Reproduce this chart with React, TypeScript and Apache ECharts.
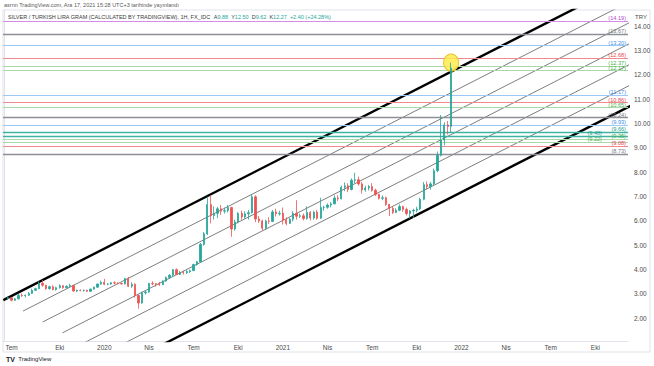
import React, { useEffect, useRef } from "react";
import * as echarts from "echarts";

// ---- categories: weekly bars (Monday dates) ----
const START_DATE = Date.UTC(2019, 5, 17);
const WEEK_COUNT = 182;
const weeks: string[] = Array.from({ length: WEEK_COUNT }, (_, i) =>
  new Date(START_DATE + i * 7 * 864e5).toISOString().slice(0, 10)
);
const FIRST_BAR = 1; // first candle is the week of 2019-06-24

// ---- weekly OHLC (XAG/TRY per gram) ----
const open = [
  2.80, 2.85, 2.74, 2.80, 2.95, 2.93, 2.95, 3.02, 3.15, 3.22, 3.44, 3.36, 3.22, 3.30, 3.18, 3.26, 3.34, 3.26, 3.32, 3.35,
  3.12, 3.15, 3.14, 3.15, 3.11, 3.20, 3.28, 3.41, 3.48, 3.40, 3.41, 3.46, 3.45, 3.43, 3.41, 3.63, 3.32, 3.40, 2.94, 2.63,
  3.05, 3.08, 3.43, 3.42, 3.41, 3.39, 3.53, 3.68, 3.77, 4.00, 3.80, 3.88, 3.87, 3.92, 3.96, 4.21, 4.32, 5.04, 5.47, 6.67,
  6.22, 6.31, 6.50, 6.40, 6.42, 6.55, 5.67, 5.96, 6.31, 6.16, 6.29, 6.34, 6.99, 6.08, 6.00, 5.70, 6.00, 5.98, 6.37, 6.29,
  6.31, 6.04, 5.90, 6.07, 6.31, 6.19, 6.21, 6.10, 6.35, 6.12, 6.36, 6.11, 6.55, 6.56, 6.65, 6.70, 6.94, 6.91, 7.38, 7.44,
  7.29, 7.67, 7.69, 7.52, 7.27, 7.35, 7.41, 7.26, 7.09, 6.93, 6.95, 6.68, 6.51, 6.35, 6.44, 6.59, 6.47, 6.30, 6.41, 6.44,
  6.49, 6.89, 7.49, 7.41, 7.52, 8.06, 8.70, 9.32, 9.94, 9.88,
];
const close = [
  2.85, 2.74, 2.80, 2.95, 2.93, 2.95, 3.02, 3.15, 3.22, 3.44, 3.36, 3.22, 3.30, 3.18, 3.26, 3.34, 3.26, 3.32, 3.35, 3.12,
  3.15, 3.14, 3.15, 3.11, 3.20, 3.28, 3.41, 3.48, 3.40, 3.41, 3.46, 3.45, 3.43, 3.41, 3.63, 3.32, 3.40, 2.94, 2.63, 3.05,
  3.08, 3.43, 3.42, 3.41, 3.39, 3.53, 3.68, 3.77, 4.00, 3.80, 3.88, 3.87, 3.92, 3.96, 4.21, 4.32, 5.04, 5.47, 6.67, 6.22,
  6.31, 6.50, 6.40, 6.42, 6.55, 5.67, 5.96, 6.31, 6.16, 6.29, 6.34, 6.99, 6.08, 6.00, 5.70, 6.00, 5.98, 6.37, 6.29, 6.31,
  6.04, 5.90, 6.07, 6.31, 6.19, 6.21, 6.10, 6.35, 6.12, 6.36, 6.11, 6.55, 6.56, 6.65, 6.70, 6.94, 6.91, 7.38, 7.44, 7.29,
  7.67, 7.69, 7.52, 7.27, 7.35, 7.41, 7.26, 7.09, 6.93, 6.95, 6.68, 6.51, 6.35, 6.44, 6.59, 6.47, 6.30, 6.41, 6.44, 6.49,
  6.89, 7.49, 7.41, 7.52, 8.06, 8.70, 9.32, 9.94, 9.88, 12.27,
];
const low = [
  2.75, 2.70, 2.72, 2.78, 2.88, 2.86, 2.92, 3.00, 3.12, 3.20, 3.30, 3.18, 3.18, 3.15, 3.14, 3.22, 3.22, 3.24, 3.28, 3.10,
  3.08, 3.11, 3.10, 3.08, 3.09, 3.18, 3.26, 3.38, 3.36, 3.36, 3.38, 3.40, 3.40, 3.39, 3.40, 3.28, 3.25, 2.85, 2.40, 2.60,
  2.98, 3.05, 3.36, 3.30, 3.33, 3.36, 3.50, 3.62, 3.72, 3.78, 3.78, 3.80, 3.82, 3.86, 3.94, 4.16, 4.30, 4.98, 5.42, 5.90,
  6.05, 6.12, 6.25, 6.30, 6.35, 5.35, 5.60, 5.90, 6.05, 6.10, 6.05, 6.30, 5.95, 5.92, 5.62, 5.65, 5.88, 5.95, 6.18, 6.22,
  5.85, 5.82, 5.88, 5.98, 6.05, 6.12, 6.02, 6.05, 6.02, 6.05, 6.05, 6.08, 6.42, 6.50, 6.55, 6.68, 6.82, 6.88, 7.22, 7.18,
  7.25, 7.55, 7.45, 7.12, 7.20, 7.25, 7.20, 7.02, 6.88, 6.85, 6.62, 6.20, 6.28, 6.32, 6.40, 6.38, 6.22, 6.10, 6.12, 6.35,
  6.45, 6.85, 7.30, 7.28, 7.48, 8.00, 8.65, 9.10, 9.55, 9.62,
];
const high = [
  2.92, 2.88, 2.83, 3.00, 3.02, 2.98, 3.08, 3.22, 3.26, 3.52, 3.58, 3.38, 3.34, 3.36, 3.30, 3.40, 3.36, 3.35, 3.42, 3.38,
  3.18, 3.19, 3.18, 3.18, 3.22, 3.30, 3.43, 3.55, 3.62, 3.44, 3.49, 3.52, 3.48, 3.46, 3.66, 3.70, 3.48, 3.44, 2.98, 3.10,
  3.12, 3.46, 3.52, 3.45, 3.50, 3.56, 3.72, 3.82, 4.02, 4.05, 3.95, 3.95, 3.98, 4.00, 4.24, 4.36, 5.10, 5.55, 7.00, 7.05,
  6.60, 6.58, 6.65, 6.55, 6.65, 6.58, 6.05, 6.36, 6.42, 6.40, 6.45, 7.10, 7.05, 6.20, 6.05, 6.05, 6.15, 6.45, 6.50, 6.42,
  6.55, 6.15, 6.12, 6.40, 6.85, 6.30, 6.30, 6.60, 6.40, 6.42, 6.45, 6.95, 6.62, 6.72, 6.78, 7.05, 7.05, 7.45, 7.58, 7.55,
  7.75, 7.98, 7.82, 7.60, 7.45, 7.48, 7.55, 7.32, 7.12, 7.05, 7.00, 6.62, 6.58, 6.52, 6.68, 6.62, 6.55, 6.45, 6.50, 6.58,
  6.95, 7.60, 7.62, 7.60, 8.15, 8.85, 10.35, 10.05, 10.10, 12.50,
];

// ---- horizontal price levels (drawings) ----
const levelValues = [14.19, 13.67, 13.2, 12.68, 12.37, 12.17, 11.17, 10.86, 10.65, 10.24, 9.93, 9.66, 9.48, 9.35, 9.22, 9.08, 8.73];
const levelKinds = ["purple", "grey", "blue", "red", "green", "green", "blue", "red", "green", "grey", "blue", "teal", "teal", "green", "green", "red", "grey"];
// labels of the tightly packed levels are staggered to stay readable
const levelLabelShift = [0, 0, 0, 0, 0, 0, 0, 0, 0, 0, 0, 0, 1, 0, 1, 0, 0];

// ---- parallel channel (upper anchor, slope per week, width in price, number of divisions) ----
const channelStart = [0, 2.776];
const channelSlope = 0.07193;
const channelWidth = 5.162;
const channelDivisions = 6;
const channelStartStep = 5.74;
const channelEnd = 200;

// ---- last bar ----
const lastPrice = 12.27;
const lastBarIndex = FIRST_BAR + close.length - 1;

const KIND: Record<string, { line: string; text: string; w: number }> = {
  purple: { line: "#d48ce6", text: "#b04ccc", w: 1 },
  grey: { line: "#8e9099", text: "#787b86", w: 1.4 },
  blue: { line: "#9cc8f5", text: "#3d8ee8", w: 1 },
  red: { line: "#f08a8c", text: "#e8474f", w: 1.2 },
  green: { line: "#a9d8ab", text: "#4caf50", w: 1 },
  teal: { line: "#3fb3a2", text: "#1e9e8a", w: 1.4 },
};

const TR_MONTHS = ["Oca", "Şub", "Mar", "Nis", "May", "Haz", "Tem", "Ağu", "Eyl", "Eki", "Kas", "Ara"];
const FONT = "'Liberation Sans', 'DejaVu Sans', Arial, sans-serif";

export default function App() {
  const ref = useRef<HTMLDivElement>(null);
  useEffect(() => {
    if (!ref.current) return;
    const chart = echarts.init(ref.current, undefined, { renderer: "svg" });

    const candleData = weeks.map((_, i) => {
      const k = i - FIRST_BAR;
      return k >= 0 && k < open.length ? [open[k], close[k], low[k], high[k]] : "-";
    });

    const channelSeries = Array.from({ length: channelDivisions + 1 }, (_, k) => {
      const s = channelStart[0] - 0.4 + channelStartStep * k;
      const off = (channelWidth * k) / channelDivisions;
      const p0 = channelStart[1] + channelSlope * (s - channelStart[0]) - off;
      const p1 = channelStart[1] + channelSlope * (channelEnd - channelStart[0]) - off;
      const thick = k === 0 || k === channelDivisions;
      return {
        type: "line",
        xAxisIndex: 1,
        yAxisIndex: 0,
        data: [
          [s, p0],
          [channelEnd, p1],
        ],
        symbol: "none",
        silent: true,
        z: 3,
        lineStyle: { color: thick ? "#000000" : "#5d5d5d", width: thick ? 2.4 : 0.8 },
      };
    });

    const levelLines = levelValues.map((v, i) => {
      const k = KIND[levelKinds[i]];
      return {
        yAxis: v,
        lineStyle: { color: k.line, width: k.w, type: "solid" },
        label: {
          show: true,
          position: "insideEndTop",
          distance: [2 + levelLabelShift[i] * 24, 0],
          formatter: `(${v.toFixed(2)})`,
          color: k.text,
          fontSize: 5.6,
          fontFamily: FONT,
        },
      };
    });

    chart.setOption({
      animation: false,
      backgroundColor: "#ffffff",
      textStyle: { fontFamily: FONT },
      grid: { left: 3, right: 26, top: 10, bottom: 25, containLabel: false },
      xAxis: [
        {
          type: "category",
          data: weeks,
          boundaryGap: true,
          axisLine: { show: true, lineStyle: { color: "#e0e3eb" } },
          axisTick: { show: false },
          splitLine: { show: false },
          axisLabel: {
            fontSize: 6.5,
            color: "#4a4a4a",
            margin: 3,
            interval: (_i: number, v: string) => {
              const m = +v.slice(5, 7) - 1;
              const d = +v.slice(8, 10);
              return m % 3 === 0 && d <= 7;
            },
            formatter: (v: string) => {
              const m = +v.slice(5, 7) - 1;
              return m === 0 ? v.slice(0, 4) : TR_MONTHS[m];
            },
          },
        },
        {
          type: "value",
          min: -0.5,
          max: WEEK_COUNT - 0.5,
          show: false,
        },
      ],
      yAxis: {
        type: "value",
        position: "right",
        min: 1.07,
        max: 14.66,
        splitNumber: 13,
        minInterval: 1,
        maxInterval: 1,
        scale: true,
        axisLine: { show: true, lineStyle: { color: "#e0e3eb" } },
        axisTick: { show: false },
        splitLine: { show: false },
        axisLabel: {
          showMinLabel: false,
          showMaxLabel: false,
          fontSize: 6.5,
          color: "#4a4a4a",
          margin: 6,
          formatter: (v: number) => v.toFixed(2),
        },
      },
      series: [
        {
          type: "line",
          data: [],
          silent: true,
          z: 1,
          markLine: {
            silent: true,
            symbol: ["none", "none"],
            animation: false,
            data: levelLines,
          },
        },
        ...channelSeries,
        {
          type: "candlestick",
          data: candleData,
          barWidth: 1.8,
          z: 5,
          itemStyle: {
            color: "#26a69a",
            color0: "#ef5350",
            borderColor: "#26a69a",
            borderColor0: "#ef5350",
            borderWidth: 0.8,
          },
          markPoint: {
            silent: true,
            symbol: "circle",
            symbolSize: [15, 17],
            label: { show: false },
            itemStyle: { color: "rgba(255, 235, 80, 0.85)", borderColor: "#e9c12a", borderWidth: 1 },
            data: [{ coord: [lastBarIndex, high[high.length - 1]] }],
          },
          markLine: {
            silent: true,
            symbol: ["none", "none"],
            animation: false,
            data: [
              {
                yAxis: lastPrice,
                lineStyle: { opacity: 0 },
                label: {
                  show: true,
                  position: "end",
                  distance: 1,
                  formatter: lastPrice.toFixed(2),
                  color: "#ffffff",
                  backgroundColor: "#26a69a",
                  padding: [2, 3, 1, 3],
                  fontSize: 6.5,
                  fontFamily: FONT,
                },
              },
            ],
          },
        },
      ],
      graphic: [
        {
          type: "rect",
          silent: true,
          shape: { x: 3, y: 10, width: 647, height: 342 },
          style: { fill: "none", stroke: "#e0e3eb", lineWidth: 1 },
          z: 0,
        },
        {
          type: "text",
          left: 4,
          top: 2,
          silent: true,
          style: {
            text: "asrnn TradingView.com, Ara 17, 2021 15:28 UTC+3 tarihinde yayınlandı",
            fontSize: 5.5,
            fill: "#5a5a5a",
            fontFamily: FONT,
          },
        },
        {
          type: "text",
          left: 8,
          top: 14,
          silent: true,
          z: 10,
          style: {
            text:
              "{t|SILVER / TURKISH LIRA GRAM (CALCULATED BY TRADINGVIEW), 1H, FX_IDC}  {k|A}{v|9.88}  {k|Y}{v|12.50}  {k|D}{v|9.62}  {k|K}{v|12.27}  {v|+2.40 (+24.28%)}",
            fontSize: 5.5,
            fontFamily: FONT,
            rich: {
              t: { fill: "#3a3a3a", fontSize: 5.5 },
              k: { fill: "#3a3a3a", fontSize: 5.5 },
              v: { fill: "#26a69a", fontSize: 5.5 },
            },
          },
        },
        {
          type: "text",
          left: 635,
          top: 14,
          silent: true,
          style: { text: "TRY", fontSize: 6, fill: "#4a4a4a", fontFamily: FONT },
        },
        {
          type: "text",
          left: 6,
          top: 353,
          silent: true,
          style: {
            text: "{b|TV} {n|TradingView}",
            fontFamily: FONT,
            rich: {
              b: { fill: "#131722", fontSize: 7, fontWeight: "bold" },
              n: { fill: "#131722", fontSize: 6 },
            },
          },
        },
      ],
    });
    return () => chart.dispose();
  }, []);
  return (
    <div
      ref={ref}
      style={{ position: "fixed", left: 0, top: 0, width: 654, height: 366, background: "#fff" }}
    />
  );
}
